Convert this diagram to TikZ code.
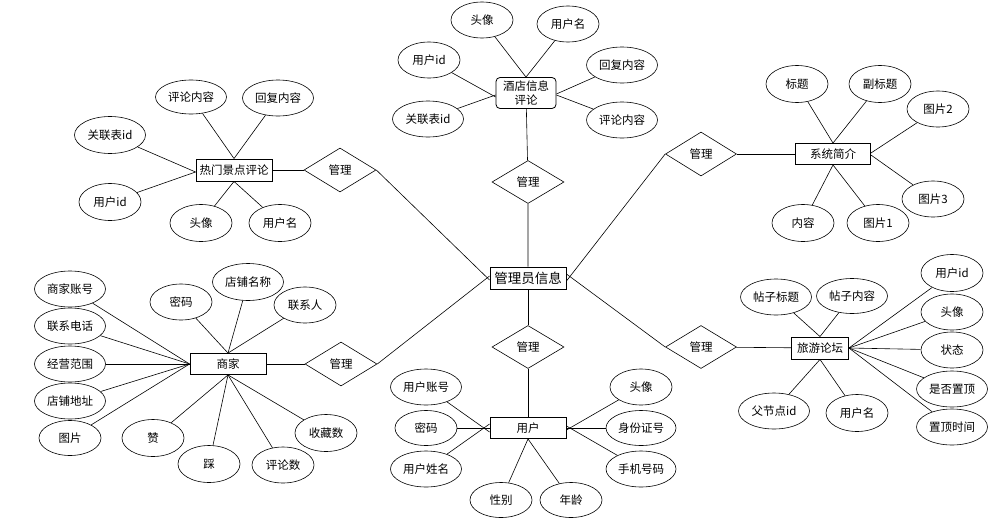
\documentclass[tikz,border=0pt]{standalone}
\usepackage{fontspec}
\setmainfont{Noto Sans CJK SC}
\usetikzlibrary{shapes.geometric}

\begin{document}
\begin{tikzpicture}[x=1pt,y=-1pt,line width=0.6pt,
      every node/.style={font=\fontsize{11.5}{13}\selectfont},
      attr/.style={ellipse, draw, inner sep=0pt, minimum width=62pt, minimum height=36pt},
      wide/.style={attr, minimum width=71pt},
      entity/.style={rectangle, draw, line width=0.9pt, minimum width=76pt, minimum height=22pt, inner sep=1pt},
      rel/.style={diamond, draw, inner sep=0pt, minimum width=72pt, minimum height=43pt}
      ]
      \useasboundingbox (0,0) rectangle (995,530);

      % centre
      \node[entity, font=\fontsize{13.5}{15}\selectfont] (mg) at (528,278) {管理员信息};

      % hotel comments
      \node[rel] (gl1) at (528,182) {管理};
      \node[draw, rounded corners=4pt, line width=0.8pt, minimum width=60pt, minimum height=31pt,
            inner sep=1pt, align=center, font=\fontsize{11.5}{14}\selectfont] (jd) at (526,93) {酒店信息\\评论};
      \node[attr] (jd1) at (482,20) {头像};
      \node[attr] (jd2) at (568,24) {用户名};
      \node[attr] (jd3) at (429,60) {用户id};
      \node[wide] (jd4) at (622,65) {回复内容};
      \node[wide] (jd5) at (428,119) {关联表id};
      \node[wide] (jd6) at (622,120) {评论内容};
      \draw (mg) -- (gl1) -- (jd);
      \draw (jd1) -- (jd.north);
      \draw (jd2) -- (jd.north);
      \draw (jd3) -- ([yshift=-4pt]jd.west);
      \draw (jd5) -- ([yshift=-2pt]jd.west);
      \draw (jd4) -- ([yshift=-1pt]jd.east);
      \draw (jd6) -- ([yshift=-2pt]jd.east);

      % hot spot comments
      \node[entity] (rm) at (234,170) {热门景点评论};
      \node[rel, minimum height=44pt] (gl2) at (340,170) {管理};
      \node[wide, minimum height=34pt] (rm1) at (191,97) {评论内容};
      \node[wide] (rm2) at (278,98) {回复内容};
      \node[wide, minimum height=37pt] (rm3) at (110,135) {关联表id};
      \node[attr, minimum height=37pt] (rm4) at (110,202) {用户id};
      \node[attr, minimum height=37pt] (rm5) at (201,223) {头像};
      \node[attr, minimum height=37pt] (rm6) at (280,223) {用户名};
      \draw (rm) -- (gl2);
      \draw (gl2.east) -- ([yshift=-2pt]mg.west);
      \draw (rm1) -- (rm.north);
      \draw (rm2) -- (rm.north);
      \draw (rm3) -- ([yshift=-2pt]rm.west);
      \draw (rm4) -- ([yshift=-2pt]rm.west);
      \draw (rm5) -- (rm.south);
      \draw (rm6) -- (rm.south);

      % system intro
      \node[entity, minimum width=75pt, minimum height=21pt] (xt) at (833,154) {系统简介};
      \node[rel, minimum width=71pt, minimum height=44pt] (gl3) at (701,154) {管理};
      \node[attr, minimum height=37pt] (xt1) at (797,84) {标题};
      \node[attr, minimum height=37pt] (xt2) at (880,84) {副标题};
      \node[attr] (xt3) at (938,109) {图片2};
      \node[attr] (xt4) at (933,199) {图片3};
      \node[attr, minimum height=37pt] (xt5) at (803,223) {内容};
      \node[attr, minimum height=37pt] (xt6) at (878,223) {图片1};
      \draw (xt) -- (gl3);
      \draw (gl3.west) -- ([yshift=-3pt]mg.east);
      \draw (xt1) -- (xt.north);
      \draw (xt2) -- (xt.north);
      \draw (xt3) -- ([yshift=1pt]xt.east);
      \draw (xt4) -- ([yshift=-1pt]xt.east);
      \draw (xt5) -- (xt.south);
      \draw (xt6) -- (xt.south);

      % travel forum
      \node[entity, minimum width=57pt] (lt) at (820,348) {旅游论坛};
      \node[rel, minimum width=71pt] (gl4) at (701,347) {管理};
      \node[wide] (lt1) at (776,297) {帖子标题};
      \node[wide, minimum height=35pt] (lt2) at (852,296) {帖子内容};
      \node[attr, minimum height=37pt] (lt3) at (952,273) {用户id};
      \node[attr] (lt4) at (952,312) {头像};
      \node[attr] (lt5) at (952,350) {状态};
      \node[wide] (lt6) at (952,389) {是否置顶};
      \node[wide] (lt7) at (952,427) {置顶时间};
      \node[wide] (lt8) at (774,411) {父节点id};
      \node[attr, minimum height=37pt] (lt9) at (857,413) {用户名};
      \draw (lt) -- (gl4);
      \draw (gl4.west) -- ([yshift=4pt]mg.east);
      \draw (lt1) -- (lt.north);
      \draw (lt2) -- (lt.north);
      \foreach \i in {3,...,7}
        \draw (lt\i) -- (lt.east);
      \draw (lt8) -- (lt.south);
      \draw (lt9) -- (lt.south);

      % merchant
      \node[entity, minimum height=21pt] (sj) at (228,364) {商家};
      \node[rel, minimum height=44pt] (gl5) at (341,364) {管理};
      \node[wide] (sj1) at (70,289) {商家账号};
      \node[wide] (sj2) at (70,326) {联系电话};
      \node[wide] (sj3) at (70,364) {经营范围};
      \node[wide] (sj4) at (70,401) {店铺地址};
      \node[attr, minimum height=35pt] (sj5) at (70,438) {图片};
      \node[attr] (sj6) at (181,302) {密码};
      \node[wide, minimum height=37pt] (sj7) at (248,282) {店铺名称};
      \node[attr] (sj8) at (305,305) {联系人};
      \node[attr, minimum height=37pt] (sj9) at (153,438) {赞};
      \node[attr, minimum height=37pt] (sj10) at (209,464) {踩};
      \node[attr] (sj11) at (283,465) {评论数};
      \node[attr, minimum height=37pt] (sj12) at (326,433) {收藏数};
      \draw (sj) -- (gl5);
      \draw (gl5.east) -- ([yshift=2pt]mg.west);
      \foreach \i in {1,...,5}
        \draw (sj\i) -- (sj.west);
      \foreach \i in {6,7,8}
        \draw (sj\i) -- (sj.north);
      \foreach \i in {9,...,12}
        \draw (sj\i) -- (sj.south);

      % user
      \node[rel] (gl6) at (528,347) {管理};
      \node[entity, minimum height=21pt] (yh) at (528,428) {用户};
      \node[wide] (yh1) at (426,387) {用户账号};
      \node[attr, minimum height=35pt] (yh2) at (426,428) {密码};
      \node[wide] (yh3) at (426,469) {用户姓名};
      \node[attr, minimum height=35pt] (yh4) at (501,500) {性别};
      \node[attr, minimum height=35pt] (yh5) at (571,500) {年龄};
      \node[attr] (yh6) at (641,387) {头像};
      \node[wide, minimum width=70pt, minimum height=35pt] (yh7) at (641,428) {身份证号};
      \node[wide, minimum width=70pt] (yh8) at (641,469) {手机号码};
      \draw (mg) -- (gl6) -- (yh);
      \draw (yh1) -- ([yshift=-4pt]yh.west);
      \draw (yh2) -- (yh.west);
      \draw (yh3) -- ([yshift=4pt]yh.west);
      \draw (yh4) -- (yh.south);
      \draw (yh5) -- (yh.south);
      \draw (yh6) -- ([yshift=-2pt]yh.east);
      \draw (yh7) -- (yh.east);
      \draw (yh8) -- ([yshift=2pt]yh.east);
    \end{tikzpicture}
\end{document}
